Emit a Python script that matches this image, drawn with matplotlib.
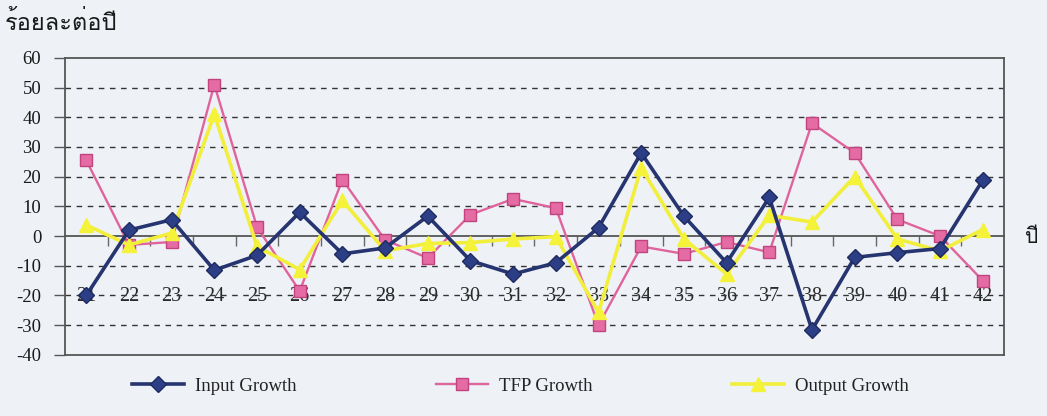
import matplotlib
matplotlib.use("Agg")
import matplotlib.pyplot as plt
from matplotlib import font_manager
import numpy as np

# ---------------- data ----------------
years = ["21", "22", "23", "24", "25", "26", "27", "28", "29", "30", "31",
         "32", "33", "34", "35", "36", "37", "38", "39", "40", "41", "42"]
input_growth = [-20, 2, 5.5, -11.5, -6.5, 8, -6, -4, 6.7, -8.3, -12.8,
                -9, 2.8, 28, 6.7, -9, 13, -31.6, -7.2, -5.6, -4.2, 18.8]
tfp_growth = [25.5, -3, -2, 51, 3, -18.5, 19, -1.3, -7.4, 7.2, 12.5,
              9.4, -30, -3.5, -6, -2, -5.5, 38, 28, 5.6, 0, -15]
output_growth = [3.7, -3, 1, 41, -3.5, -11.3, 12, -5, -2.5, -2.2, -1,
                 -0.2, -25.7, 23, -1, -12.8, 7, 4.7, 20, -1, -5, 2.2]
series_names = ["Input Growth", "TFP Growth", "Output Growth"]
y_label = "ร้อยละต่อปี"
x_label = "ปี"
y_ticks = [60, 50, 40, 30, 20, 10, 0, -10, -20, -30, -40]

# ---------------- fonts ----------------
def find_thai_font():
    try:
        from fontTools.ttLib import TTFont
    except Exception:
        return None
    for path in sorted(font_manager.findSystemFonts()):
        try:
            f = TTFont(path, fontNumber=0, lazy=True)
            cmap = f.getBestCmap()
            if cmap and 0x0E23 in cmap and 0x0E1B in cmap:
                return path
        except Exception:
            continue
    return None

thai_path = find_thai_font()
if thai_path:
    font_manager.fontManager.addfont(thai_path)
    thai_family = font_manager.FontProperties(fname=thai_path).get_name()
else:
    thai_family = "DejaVu Sans"

serif = ["Liberation Serif", "DejaVu Serif"]
plt.rcParams["font.family"] = serif

bg = "#eef2f7"
fig = plt.figure(figsize=(10.47, 4.16), dpi=100, facecolor=bg)
ax = fig.add_axes([0.062, 0.147, 0.897, 0.714])
ax.set_facecolor(bg)

x = np.arange(len(years))
ax.plot(x, input_growth, color="#26346f", lw=2.6, marker="D", ms=8,
        mfc="#2c3f86", mec="#1f2a5e", label=series_names[0], zorder=4)
ax.plot(x, tfp_growth, color="#e0649c", lw=1.7, marker="s", ms=9,
        mfc="#e46ba3", mec="#c2447f", label=series_names[1], zorder=3)
ax.plot(x, output_growth, color="#f2ee3c", lw=2.6, marker="^", ms=10,
        mfc="#f5f23a", mec="#f5f23a", label=series_names[2], zorder=3.5)

ax.set_xlim(-0.5, len(years) - 0.5)
ax.set_ylim(-40, 60)
ax.set_yticks(y_ticks)
ax.set_yticklabels([str(v) for v in y_ticks], fontsize=13.5, color="#1a1a1a")
ax.tick_params(axis="y", direction="out", length=8, width=1, color="#555555", pad=9)
ax.set_xticks([])
for g in [50, 40, 30, 20, 10, -10, -20, -30]:
    ax.axhline(g, color="#333333", lw=1.0, ls=(0, (4, 4)), zorder=1)
for s in ax.spines.values():
    s.set_color("#555555")
    s.set_linewidth(1.3)

# category axis crossing at zero
sec = ax.secondary_xaxis((0 - (-40)) / 100)
sec.spines["bottom"].set_color("#555555")
sec.spines["bottom"].set_linewidth(1.3)
sec.set_xticks(x)
sec.set_xticklabels(years, fontsize=14.5, color="#2a2a2a")
sec.tick_params(axis="x", which="major", length=0, pad=37)
sec.set_xticks(x[:-1] + 0.5, minor=True)
sec.tick_params(axis="x", which="minor", length=7, width=1, color="#666666", direction="out")

fig.text(0.005, 0.945, y_label, family=[thai_family, "DejaVu Sans"], fontsize=17,
         color="#1a1a1a", va="center", ha="left")
fig.text(0.985, 0.43, x_label, family=[thai_family, "DejaVu Sans"], fontsize=15,
         color="#1a1a1a", va="center", ha="center")

leg = fig.legend(loc="center", bbox_to_anchor=(0.497, 0.072), ncol=3, frameon=False,
                 fontsize=13.5, handlelength=2.8, columnspacing=7.4, handletextpad=0.6)
for t in leg.get_texts():
    t.set_color("#222222")

fig.savefig("out.png", dpi=100, facecolor=bg)
